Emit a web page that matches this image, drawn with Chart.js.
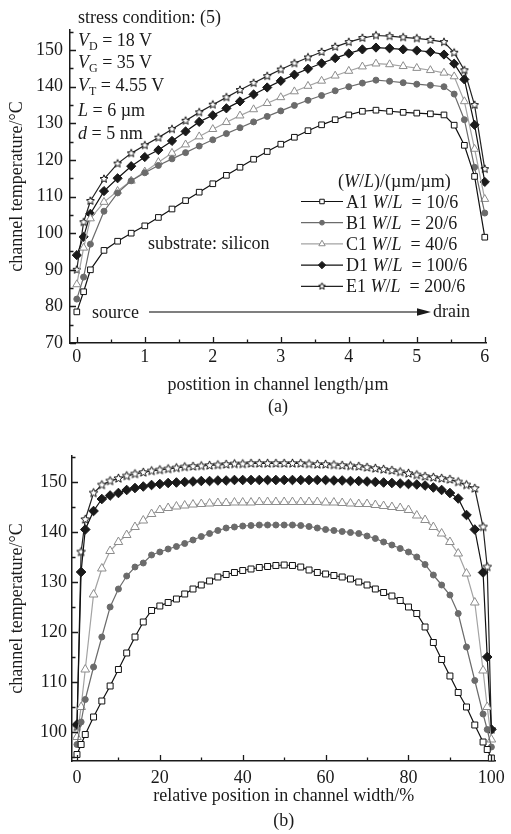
<!DOCTYPE html>
<html>
<head>
<meta charset="utf-8">
<script src="https://cdn.jsdelivr.net/npm/chart.js@4.4.0/dist/chart.umd.min.js"></script>
<style>
body{margin:0;background:#fff;width:511px;height:834px;position:relative;overflow:hidden;font-family:'Liberation Serif','Times New Roman',serif;color:#1a1a1a}
.box{position:absolute;left:0;width:511px}
#boxA{top:0;height:418px}
#boxB{top:418px;height:416px}
canvas{position:absolute;left:0;top:0}
.t{position:absolute;font-size:18px;line-height:20px;white-space:pre}
.t i{font-style:italic}
.t sub{font-size:12px;vertical-align:-4px;line-height:0}
</style>
</head>
<body>
<div class="box" id="boxA">
  <canvas id="chart-length" width="511" height="418"></canvas>
  <div class="t" style="left:78px;top:7px">stress condition: (5)</div>
  <div class="t" style="left:78px;top:30px"><i>V</i><sub>D</sub> = 18 V</div>
  <div class="t" style="left:78px;top:52px"><i>V</i><sub>G</sub> = 35 V</div>
  <div class="t" style="left:78px;top:75px"><i>V</i><sub>T</sub> = 4.55 V</div>
  <div class="t" style="left:78px;top:100px"><i>L</i> = 6 µm</div>
  <div class="t" style="left:78px;top:123px"><i>d</i> = 5 nm</div>
  <div class="t" style="left:338px;top:171px">(<i>W</i>/<i>L</i>)/(µm/µm)</div>
  <div class="t" id="leg0" style="left:346px;top:192px"></div>
  <div class="t" id="leg1" style="left:346px;top:213px"></div>
  <div class="t" id="leg2" style="left:346px;top:234px"></div>
  <div class="t" id="leg3" style="left:346px;top:255px"></div>
  <div class="t" id="leg4" style="left:346px;top:276px"></div>
  <div class="t" style="left:148px;top:233px">substrate: silicon</div>
  <div class="t" style="left:92px;top:302px">source</div>
  <div class="t" style="left:433px;top:301px">drain</div>
</div>
<div class="box" id="boxB">
  <canvas id="chart-width" width="511" height="416"></canvas>
</div>
<script>
// (a) temperature along channel length, x in µm
const lenX = [0,0.1,0.2,0.4,0.6,0.8,1.0,1.2,1.4,1.6,1.8,2.0,2.2,2.4,2.6,2.8,3.0,3.2,3.4,3.6,3.8,4.0,4.2,4.4,4.6,4.8,5.0,5.2,5.4,5.55,5.7,5.85,6.0];
const a1Len = [78.5,84,90,95.3,97.8,100,102,104.3,106.6,108.9,111.2,113.5,115.8,118,120.2,122.3,124.3,126.2,128,129.6,131,132.3,133.3,133.6,133.3,133,132.8,132.6,132.3,129.5,124,115.5,98.9];
const b1Len = [82,88,97,106,111,114.3,116.5,118.5,120.3,122,123.8,125.5,127.2,128.8,130.4,131.9,133.4,134.9,136.3,137.6,138.9,140,141,141.8,141.5,141.1,140.7,140.4,140,138,131,118,105.5];
const c1Len = [86,96,104,108.5,111.5,114.3,116.8,119.4,121.9,124.2,126.4,128.4,130.3,132.1,133.8,135.5,137.1,138.7,140.2,141.6,143,144.3,145.5,146.3,146.1,145.6,145.1,144.5,143.8,142.8,136,123,109.3];
const d1Len = [94,99,105.3,111.5,115,118.3,120.8,122.7,125.2,127.8,130.4,132.2,134.1,136,137.9,139.8,141.6,143.3,144.9,146.4,147.8,149.1,150.2,150.7,150.5,150.2,149.9,149.5,148.8,146.3,142,129.6,114];
const e1Len = [90,103,108.8,114.8,119,121.8,124,126.1,128.4,130.7,133,135.1,137.1,139.1,141,142.9,144.7,146.4,148,149.5,150.9,152.2,153.3,154,153.8,153.5,153.2,152.8,152.2,149.3,144.5,135,117.5];

// (b) temperature across channel width, x in %
const widX = [0,1,2,4,6,8,10,12,14,16,18,20,22,24,26,28,30,32,34,36,38,40,42,44,46,48,50,52,54,56,58,60,62,64,66,68,70,72,74,76,78,80,82,84,86,88,90,92,94,96,98,99,100];
const a1Wid = [95.5,97.5,99.5,103,106.2,109.2,112.5,115.8,119,122,124.3,125.2,125.9,126.6,127.6,128.6,129.4,130.2,131,131.5,131.9,132.3,132.6,132.9,133.1,133.3,133.4,133.3,133,132.4,131.9,131.6,131.3,131,130.6,130,129.4,128.6,127.9,127.2,126.3,125,123.7,121,117.9,114.5,111.2,107.9,105,101.4,98,96.5,94.8];
const b1Wid = [97.5,102,106.5,113,119,125,128.6,131.2,133,133.8,135.4,136,136.6,137.1,137.7,138.4,139.1,139.7,140.3,140.8,141,141.2,141.3,141.4,141.4,141.4,141.4,141.4,141.3,141.1,140.8,140.5,140.3,140.1,139.9,139.7,139.2,138.7,138,137.4,136.7,136,135,133.5,131.4,129.4,127.4,123.7,117,110.3,103.6,100.5,97];
const c1Wid = [99,105,112.5,127.5,132.7,136.2,138,139.4,141,142.3,143.6,144.4,144.8,145.1,145.3,145.5,145.6,145.7,145.8,145.8,145.9,145.9,145.9,146,146,146,146,146,146,146,146,145.9,145.9,145.8,145.7,145.6,145.6,145.4,145.2,145,144.8,144.4,143.3,142.4,141,139.7,138,135.7,131.7,125.9,112.3,105,98.5];
const d1Wid = [101.5,132,140.5,144.2,146.6,147.3,147.8,148.4,148.8,149.1,149.4,149.6,149.8,149.9,150,150.1,150.2,150.2,150.3,150.3,150.4,150.4,150.4,150.4,150.4,150.4,150.4,150.4,150.4,150.4,150.4,150.4,150.3,150.3,150.2,150.2,150.1,150,149.9,149.8,149.7,149.6,149.5,149.3,148.9,148.4,147.8,146.7,143.4,140.5,131.9,115,100.5];
const e1Wid = [101,136,142.5,147.8,149.4,150.2,150.7,151.2,151.6,151.9,152.2,152.4,152.6,152.8,153,153.1,153.2,153.3,153.4,153.5,153.6,153.6,153.7,153.7,153.7,153.7,153.7,153.7,153.7,153.6,153.5,153.5,153.4,153.3,153.2,153.1,152.9,152.7,152.5,152.3,152,151.7,151.4,151.1,150.9,150.7,150.5,150,149.4,148.7,141,133,100.5];

const seriesNames = ['A1','B1','C1','D1','E1'];
const ratioLabels = ['10/6','20/6','40/6','100/6','200/6'];

const lenTicks = [0,1,2,3,4,5,6];
const lenMinor = [0.5,1.5,2.5,3.5,4.5,5.5];
const lenTempTicks = [70,80,90,100,110,120,130,140,150];
const lenTempMinor = [75,85,95,105,115,125,135,145,155];
const widTicks = [0,20,40,60,80,100];
const widMinor = [10,30,50,70,90];
const widTempTicks = [100,110,120,130,140,150];
const widTempMinor = [95,105,115,125,135,145,155];

const INK = '#1a1a1a';
Chart.defaults.font.family = "'Liberation Serif','Times New Roman',serif";
Chart.defaults.font.size = 18;
Chart.defaults.color = INK;

function starImg(r){
  const s = Math.ceil(r*2+3), c = document.createElement('canvas');
  c.width = c.height = s;
  const g = c.getContext('2d');
  g.beginPath();
  for(let i=0;i<10;i++){
    const a = -Math.PI/2 + i*Math.PI/5, rr = i%2 ? r*0.45 : r;
    g.lineTo(s/2 + rr*Math.cos(a), s/2 + rr*Math.sin(a));
  }
  g.closePath(); g.fillStyle='#fff'; g.fill();
  g.strokeStyle='#111'; g.lineWidth=1; g.stroke();
  return c;
}

function styles(big){
  return [
    {borderColor:'#111',pointStyle:'rect',pointRadius:big?4.2:4,pointBackgroundColor:'#fff',pointBorderColor:'#111'},
    {borderColor:'#6b6b6b',pointStyle:'circle',pointRadius:3,pointBackgroundColor:'#6b6b6b',pointBorderColor:'#6b6b6b'},
    {borderColor:'#a3a3a3',pointStyle:'triangle',pointRadius:big?5:4.6,pointBackgroundColor:'#fff',pointBorderColor:'#8c8c8c'},
    {borderColor:'#111',pointStyle:'rectRot',pointRadius:big?4.8:4.6,pointBackgroundColor:'#1a1a1a',pointBorderColor:'#1a1a1a'},
    {borderColor:'#222',pointStyle:starImg(big?4.6:4.2),pointRadius:4,pointBackgroundColor:'#fff',pointBorderColor:'#111'}
  ];
}

function makeSets(xs, ys, big){
  const st = styles(big);
  return ys.map((arr,i)=>Object.assign({
    label: seriesNames[i],
    data: xs.map((x,j)=>({x, y: arr[j]})),
    borderWidth:1.2, pointBorderWidth:1, clip:false, order:i
  }, st[i]));
}

// inward tick marks on both axes
const inTicks = {
  id:'inTicks',
  afterDraw(chart, args, o){
    const {ctx, chartArea:a, scales:{x,y}} = chart;
    ctx.save(); ctx.strokeStyle = INK; ctx.lineWidth = 1.3; ctx.beginPath();
    const xt = (vals,len)=>vals.forEach(v=>{const p=Math.round(x.getPixelForValue(v))+0.5; ctx.moveTo(p,a.bottom); ctx.lineTo(p,a.bottom-len);});
    const yt = (vals,len)=>vals.forEach(v=>{const p=Math.round(y.getPixelForValue(v))+0.5; ctx.moveTo(a.left,p); ctx.lineTo(a.left+len,p);});
    xt(o.xMajor,6); xt(o.xMinor,3.5); yt(o.yMajor,6); yt(o.yMinor,3.5);
    ctx.stroke(); ctx.restore();
  }
};

// legend samples and source->drain arrow for panel (a)
const panelA = {
  id:'panelA',
  afterDraw(chart){
    const ctx = chart.ctx;
    chart.data.datasets.forEach((d,i)=>{
      const y = 201.5 + i*21.2, x0 = 301, x1 = 343;
      ctx.save();
      ctx.strokeStyle = d.borderColor; ctx.lineWidth = 1.2;
      ctx.beginPath(); ctx.moveTo(x0,y); ctx.lineTo(x1,y); ctx.stroke();
      ctx.fillStyle = d.pointBackgroundColor; ctx.strokeStyle = d.pointBorderColor; ctx.lineWidth = 1;
      const ps = typeof d.pointStyle === 'string' ? d.pointStyle : starImg(3.6);
      Chart.helpers.drawPoint(ctx, {pointStyle:ps, radius:d.pointRadius*0.8, rotation:0, borderWidth:1}, (x0+x1)/2, y);
      ctx.restore();
    });
    ctx.save();
    ctx.strokeStyle = '#555'; ctx.lineWidth = 1.5;
    ctx.beginPath(); ctx.moveTo(149,312); ctx.lineTo(420,312); ctx.stroke();
    ctx.fillStyle = INK; ctx.beginPath();
    ctx.moveTo(431,312); ctx.lineTo(417,308.3); ctx.lineTo(417,315.7); ctx.closePath(); ctx.fill();
    ctx.restore();
  }
};

function axes(cfg){
  return {
    x:{type:'linear', min:cfg.xmin, max:cfg.xmax,
       border:{color:INK,width:1.5}, grid:{display:false,drawTicks:false},
       ticks:{padding:cfg.xpad, autoSkip:false, maxRotation:0},
       afterBuildTicks:s=>{s.ticks = cfg.xt.map(v=>({value:v}));},
       afterFit:s=>{s.height = cfg.xh;},
       title:{display:true, text:cfg.xtitle, padding:{top:0,bottom:0}, font:{size:18,lineHeight:cfg.lh}}},
    y:{type:'linear', min:cfg.ymin, max:cfg.ymax,
       border:{color:INK,width:1.5}, grid:{display:false,drawTicks:false},
       ticks:{padding:cfg.ypad, autoSkip:false},
       afterBuildTicks:s=>{s.ticks = cfg.yt.map(v=>({value:v}));},
       afterFit:s=>{s.width = cfg.yw;},
       title:{display:true, text:'channel temperature/°C', padding:{top:6,bottom:0}, font:{size:18}}}
  };
}

function baseOpts(pad, sc, ticks){
  return {
    responsive:false, animation:false, events:[],
    layout:{padding:pad},
    plugins:{legend:{display:false}, tooltip:{enabled:false}, inTicks:ticks},
    scales:sc
  };
}

new Chart(document.getElementById('chart-length'), {
  type:'line',
  data:{datasets: makeSets(lenX, [a1Len,b1Len,c1Len,d1Len,e1Len], false)},
  options: baseOpts({top:30,right:25,left:0,bottom:0},
    axes({xmin:-0.1, xmax:6.018, ymin:70, ymax:155.5, xt:lenTicks, yt:lenTempTicks,
          xh:75, yw:70, xpad:3, ypad:7, lh:22/18,
          xtitle:['postition in channel length/µm','(a)']}),
    {xMajor:lenTicks, xMinor:lenMinor, yMajor:lenTempTicks, yMinor:lenTempMinor}),
  plugins:[inTicks, panelA]
});

new Chart(document.getElementById('chart-width'), {
  type:'line',
  data:{datasets: makeSets(widX, [a1Wid,b1Wid,c1Wid,d1Wid,e1Wid], true)},
  options: baseOpts({top:38,right:14,left:0,bottom:0},
    axes({xmin:-1.2, xmax:101, ymin:94.2, ymax:155.2, xt:widTicks, yt:widTempTicks,
          xh:73, yw:72, xpad:6, ypad:5, lh:25/18,
          xtitle:['relative position in channel width/%','(b)']}),
    {xMajor:widTicks, xMinor:widMinor, yMajor:widTempTicks, yMinor:widTempMinor}),
  plugins:[inTicks]
});

seriesNames.forEach((n,i)=>{
  document.getElementById('leg'+i).innerHTML = n+' <i>W</i>/<i>L</i>  = '+ratioLabels[i];
});
</script>
</body>
</html>
